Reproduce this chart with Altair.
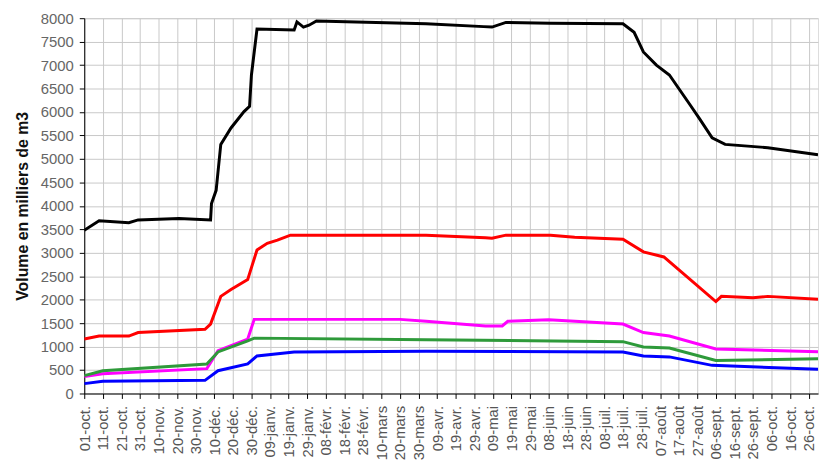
import altair as alt
import pandas as pd

tick_labels = ["01-oct.", "11-oct.", "21-oct.", "31-oct.", "10-nov.", "20-nov.", "30-nov.",
               "10-déc.", "20-déc.", "30-déc.", "09-janv.", "19-janv.", "29-janv.", "08-févr.",
               "18-févr.", "28-févr.", "10-mars", "20-mars", "30-mars", "09-avr.", "19-avr.",
               "29-avr.", "09-mai", "19-mai", "29-mai", "08-juin", "18-juin", "28-juin",
               "08-juil.", "18-juil.", "28-juil.", "07-août", "17-août", "27-août",
               "06-sept.", "16-sept.", "26-sept.", "06-oct.", "16-oct.", "26-oct."]
tick_days = [i * 10 for i in range(len(tick_labels))]

black_days = [0, 8, 24, 29, 51, 68, 68.5, 71, 73.5, 79, 86, 89, 90, 93, 113, 114.5, 118, 121, 125,
              184, 215, 219.5, 227, 251, 290, 296, 301, 308, 315, 326, 331, 338, 345, 368, 395]
black_vals = [3480, 3680, 3640, 3700, 3730, 3700, 4050, 4330, 5310, 5660, 6010, 6120, 6790, 7770,
              7750, 7920, 7810, 7850, 7940, 7880, 7820, 7810, 7910, 7890, 7880, 7700, 7280, 7000,
              6790, 6160, 5870, 5450, 5310, 5240, 5090]

red_days = [0, 8, 24, 29, 65, 68, 73.5, 79, 88, 93, 98.5, 104, 111, 184, 216, 219.5, 227, 251,
            264, 290, 301, 312, 340, 343, 360, 368, 395]
red_vals = [1160, 1225, 1225, 1300, 1370, 1480, 2070, 2215, 2430, 3060, 3200, 3270, 3375, 3375,
            3320, 3310, 3375, 3375, 3330, 3290, 3020, 2910, 1960, 2070, 2040, 2070, 2010]

magenta_days = [0, 10, 66, 72, 88, 91.5, 170, 184, 216, 225, 228, 250, 290, 301, 315, 340, 395]
magenta_vals = [360, 420, 530, 910, 1160, 1580, 1580, 1540, 1440, 1440, 1540, 1570, 1480, 1300,
                1225, 950, 890]

green_days = [0, 10, 66, 72, 88, 91.5, 184, 290, 301, 315, 340, 395]
green_vals = [380, 485, 630, 885, 1120, 1180, 1145, 1105, 990, 970, 705, 740]

blue_days = [0, 10, 65, 72, 88, 93, 113, 184, 290, 301, 315, 338, 395]
blue_vals = [210, 260, 280, 485, 630, 800, 885, 900, 885, 800, 780, 600, 515]

series = [("s1", black_days, black_vals), ("s2", red_days, red_vals),
          ("s3", magenta_days, magenta_vals), ("s4", green_days, green_vals),
          ("s5", blue_days, blue_vals)]
colors = ["#000000", "#ff0000", "#ff00ff", "#2e9a3a", "#0000ff"]

rows = []
for name, days, vals in series:
    for d, v in zip(days, vals):
        rows.append({"serie": name, "jour": d, "volume": v})
df = pd.DataFrame(rows)

label_js = "[" + ",".join("'" + l + "'" for l in tick_labels) + "][round(datum.value/10)]"

chart = alt.Chart(df).mark_line(strokeWidth=3, clip=True).encode(
    x=alt.X("jour:Q",
            scale=alt.Scale(domain=[0, 395], nice=False, zero=False),
            axis=alt.Axis(values=tick_days, labelExpr=label_js, labelAngle=-90,
                          labelAlign="right", labelBaseline="middle", labelFontSize=15,
                          labelColor="#555555", labelFont="Liberation Sans", labelPadding=7,
                          tickSize=5, tickColor="#000000", domainColor="#000000",
                          grid=True, gridColor="#c8c8c8", gridOpacity=1, gridWidth=1,
                          title=None, labelOverlap=False)),
    y=alt.Y("volume:Q",
            scale=alt.Scale(domain=[0, 8000], nice=False),
            axis=alt.Axis(values=list(range(0, 8001, 500)), format="d", labelFontSize=15,
                          labelColor="#666666", labelFont="Liberation Sans", tickSize=5,
                          tickColor="#000000", domainColor="#000000", labelPadding=6,
                          grid=True, gridColor="#c8c8c8", gridOpacity=1, gridWidth=1,
                          title="Volume en milliers de m3", titleFont="Liberation Sans",
                          titleFontSize=16, titleFontWeight="bold", titleColor="#111111",
                          titlePadding=10, labelOverlap=False)),
    color=alt.Color("serie:N", scale=alt.Scale(domain=[s[0] for s in series], range=colors),
                    legend=None),
    order=alt.Order("serie:N", sort="descending"),
).properties(
    width=741, height=379,
    autosize=alt.AutoSizeParams(type="none"),
    padding={"left": 77, "top": 8, "right": 1, "bottom": 78},
).configure_view(stroke=None).configure(background="white")

chart.save("out.html", embed_options={"renderer": "svg", "actions": False})
